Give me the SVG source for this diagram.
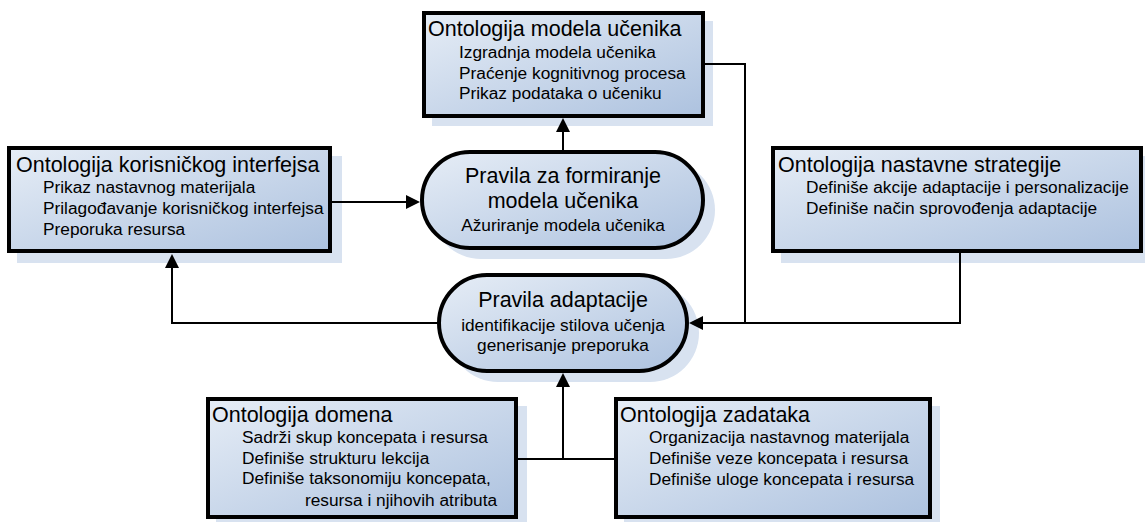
<svg xmlns="http://www.w3.org/2000/svg" xmlns:xlink="http://www.w3.org/1999/xlink" width="1145" height="522" viewBox="0 0 1145 522">
  <defs>
    <linearGradient id="fillBlue" x1="0" y1="0" x2="1" y2="1">
      <stop offset="0" stop-color="#e6edf6"/>
      <stop offset="1" stop-color="#adc2df"/>
    </linearGradient>
    <!-- arrowhead pointing right, tip at the origin -->
    <path id="ah" d="M0,0 L-14,-7 L-14,7 z" fill="#000"/>
  </defs>
  <style>
    .shadow { fill: #d8e2f0; stroke: none; }
    .box { fill: url(#fillBlue); stroke: #000; stroke-width: 4; }
    .pill { fill: url(#fillBlue); stroke: #000; stroke-width: 4; }
    .title { font-family: "Liberation Sans", Arial, sans-serif; font-size: 21.5px; fill: #000; }
    .sub { font-family: "Liberation Sans", Arial, sans-serif; font-size: 17.3px; fill: #000; }
    .mid { text-anchor: middle; }
    .conn { fill: none; stroke: #000; stroke-width: 2; }
  </style>
  <rect width="1145" height="522" fill="#fff"/>

  <!-- Ontologija modela učenika -->
  <g id="node-model-ucenika">
    <rect class="shadow" x="432" y="21" width="281" height="105"/>
    <rect class="box" x="424" y="13" width="279" height="103"/>
    <text class="title" x="428" y="36">Ontologija modela učenika</text>
    <text class="sub" x="459" y="58">Izgradnja modela učenika</text>
    <text class="sub" x="459" y="79">Praćenje kognitivnog procesa</text>
    <text class="sub" x="459" y="99">Prikaz podataka o učeniku</text>
  </g>

  <!-- Ontologija korisničkog interfejsa -->
  <g id="node-interfejs">
    <rect class="shadow" x="17" y="156" width="325" height="107"/>
    <rect class="box" x="9" y="148" width="321" height="103"/>
    <text class="title" x="16" y="172">Ontologija korisničkog interfejsa</text>
    <text class="sub" x="43" y="193">Prikaz nastavnog materijala</text>
    <text class="sub" x="43" y="214">Prilagođavanje korisničkog interfejsa</text>
    <text class="sub" x="43" y="235">Preporuka resursa</text>
  </g>

  <!-- Ontologija nastavne strategije -->
  <g id="node-strategija">
    <rect class="shadow" x="781" y="156" width="364" height="107"/>
    <rect class="box" x="773" y="148" width="368" height="103"/>
    <text class="title" x="778" y="172">Ontologija nastavne strategije</text>
    <text class="sub" x="806" y="193">Definiše akcije adaptacije i personalizacije</text>
    <text class="sub" x="806" y="214">Definiše način sprovođenja adaptacije</text>
  </g>

  <!-- Pravila za formiranje modela učenika -->
  <g id="node-pravila-formiranje">
    <rect class="shadow" x="432" y="161" width="283" height="98" rx="49"/>
    <rect class="pill" x="422" y="152" width="281" height="96" rx="48"/>
    <text class="title mid" x="563" y="183">Pravila za formiranje</text>
    <text class="title mid" x="563" y="208">modela učenika</text>
    <text class="sub mid" x="563" y="231">Ažuriranje modela učenika</text>
  </g>

  <!-- Pravila adaptacije -->
  <g id="node-pravila-adaptacije">
    <rect class="shadow" x="449" y="284" width="250" height="98" rx="49"/>
    <rect class="pill" x="439" y="275" width="248" height="96" rx="48"/>
    <text class="title mid" x="563" y="307">Pravila adaptacije</text>
    <text class="sub mid" x="563" y="331">identifikacije stilova učenja</text>
    <text class="sub mid" x="563" y="351">generisanje preporuka</text>
  </g>

  <!-- Ontologija domena -->
  <g id="node-domena">
    <rect class="shadow" x="216" y="406" width="311" height="116"/>
    <rect class="box" x="208" y="399" width="308" height="118"/>
    <text class="title" x="212" y="422">Ontologija domena</text>
    <text class="sub" x="242" y="443">Sadrži skup koncepata i resursa</text>
    <text class="sub" x="242" y="464">Definiše strukturu lekcija</text>
    <text class="sub" x="242" y="484">Definiše taksonomiju koncepata,</text>
    <text class="sub" x="305" y="506">resursa i njihovih atributa</text>
  </g>

  <!-- Ontologija zadataka -->
  <g id="node-zadataka">
    <rect class="shadow" x="624" y="406" width="316" height="116"/>
    <rect class="box" x="616" y="399" width="314" height="118"/>
    <text class="title" x="620" y="422">Ontologija zadataka</text>
    <text class="sub" x="649" y="443">Organizacija nastavnog materijala</text>
    <text class="sub" x="649" y="464">Definiše veze koncepata i resursa</text>
    <text class="sub" x="649" y="485">Definiše uloge koncepata i resursa</text>
  </g>

  <!-- connectors, drawn on top of the node shadows -->
  <g id="connectors">
    <path class="conn" d="M332,202 H408"/>
    <use xlink:href="#ah" href="#ah" transform="translate(420,202)"/>
    <path class="conn" d="M563,150 V130"/>
    <use xlink:href="#ah" href="#ah" transform="translate(563,118) rotate(-90)"/>
    <path class="conn" d="M705,64 H745 V323 H700"/>
    <use xlink:href="#ah" href="#ah" transform="translate(689,323) rotate(180)"/>
    <path class="conn" d="M960,253 V323 H745"/>
    <path class="conn" d="M437,323 H172 V266"/>
    <use xlink:href="#ah" href="#ah" transform="translate(172,254) rotate(-90)"/>
    <path class="conn" d="M518,459 H614"/>
    <path class="conn" d="M563,459 V385"/>
    <use xlink:href="#ah" href="#ah" transform="translate(563,373) rotate(-90)"/>
  </g>
</svg>
